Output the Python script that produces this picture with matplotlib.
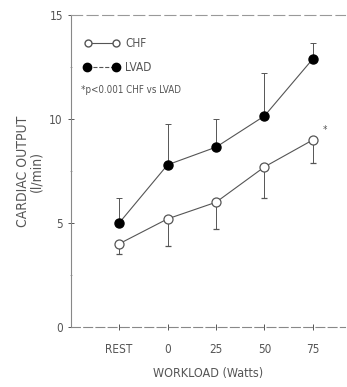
import matplotlib
matplotlib.use("Agg")
import matplotlib.pyplot as plt

plt.rcParams['font.family'] = ['DejaVu Sans']
plt.rcParams['font.stretch'] = 'condensed'

workload = ['REST', '0', '25', '50', '75']
chf = [4.0, 5.2, 6.0, 7.7, 9.0]
chf_err = [0.5, 1.3, 1.3, 1.5, 1.1]
lvad = [5.0, 7.8, 8.65, 10.15, 12.9]
lvad_err = [1.2, 1.95, 1.35, 2.05, 0.75]

ink = '#555555'
x = list(range(len(workload)))

fig = plt.figure(figsize=(3.47, 3.87), dpi=100)
ax = fig.add_axes([0.205, 0.155, 0.789, 0.806])

ax.errorbar(x, lvad, yerr=[[0] * 5, lvad_err], fmt='-', color=ink, lw=0.8,
            elinewidth=0.7, capsize=2, capthick=0.7, marker='o', ms=6.5,
            mfc='black', mec='black', zorder=3)
ax.errorbar(x, chf, yerr=[chf_err, [0] * 5], fmt='-', color=ink, lw=0.8,
            elinewidth=0.7, capsize=2, capthick=0.7, marker='o', ms=6.5,
            mfc='white', mec=ink, mew=0.9, zorder=3)
ax.text(x[-1] + 0.2, chf[-1] + 0.35, '*', fontsize=7, color=ink)

ax.set_xlim(-0.99, 4.66)
ax.set_ylim(0, 15)
ax.set_xticks(x)
ax.set_xticklabels(workload)
ax.set_yticks([0, 5, 10, 15])
ax.set_yticks([2.5, 7.5, 12.5], minor=True)
ax.tick_params(colors=ink, labelsize=8.5, length=5, width=0.7, direction='inout')
ax.tick_params(axis='x', pad=9)
ax.tick_params(which='minor', length=2, width=0.6, direction='inout', colors='#999999')

for side in ['left', 'bottom']:
    ax.spines[side].set_color('#888888')
    ax.spines[side].set_linewidth(0.8)
ax.spines['bottom'].set_linestyle((0, (8, 3)))
ax.spines['right'].set_visible(False)
ax.spines['top'].set_color('#999999')
ax.spines['top'].set_linewidth(0.8)
ax.spines['top'].set_linestyle((0, (10, 4)))

ax.set_xlabel('WORKLOAD (Watts)', color=ink, fontsize=9, labelpad=8)
ax.set_ylabel('CARDIAC OUTPUT\n(l/min)', color=ink, fontsize=10, labelpad=4,
              linespacing=1.0)

# legend drawn as in the original figure
ax.plot([-0.64, -0.06], [13.65, 13.65], '-', color=ink, lw=0.8, marker='o', ms=5,
        mfc='white', mec=ink, clip_on=False)
ax.text(0.12, 13.65, 'CHF', va='center', fontsize=8.5, color=ink)
ax.plot([-0.66, -0.06], [12.5, 12.5], '--', color=ink, lw=0.8, marker='o', ms=6,
        mfc='black', mec='black', clip_on=False)
ax.text(0.12, 12.5, 'LVAD', va='center', fontsize=8.5, color=ink)
ax.text(-0.78, 11.4, '*p<0.001 CHF vs LVAD', va='center', fontsize=7, color=ink)

fig.savefig('out.png', dpi=100)
